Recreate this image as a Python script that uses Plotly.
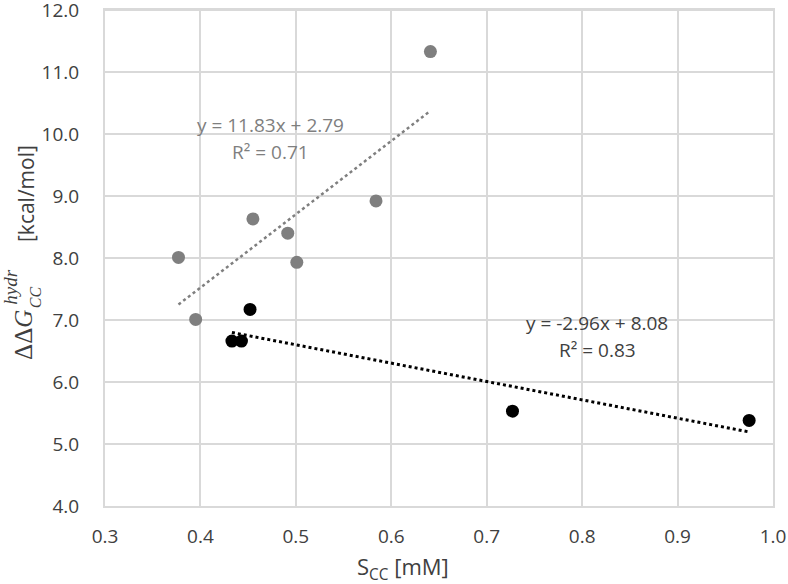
import plotly.graph_objects as go

# Gray series
gray_x = [0.377, 0.395, 0.455, 0.4915, 0.501, 0.584, 0.641]
gray_y = [8.01, 7.01, 8.63, 8.40, 7.93, 8.92, 11.33]
# Black series
black_x = [0.433, 0.443, 0.452, 0.727, 0.975]
black_y = [6.66, 6.66, 7.17, 5.53, 5.38]

# Linear trendlines (slope, intercept) as labelled
gray_fit = [11.83, 2.79]
black_fit = [-2.96, 8.08]
gray_r2 = 0.71
black_r2 = 0.83

x_ticks = [0.3, 0.4, 0.5, 0.6, 0.7, 0.8, 0.9, 1.0]
y_ticks = [4, 5, 6, 7, 8, 9, 10, 11, 12]

GRAY = "#7f7f7f"
TXT = "#404040"
GRID = "#d9d9d9"
FONT = "Open Sans"

def trend(xs, fit):
    x0, x1 = min(xs), max(xs)
    return [x0, x1], [fit[0] * x0 + fit[1], fit[0] * x1 + fit[1]]

fig = go.Figure()
tx, ty = trend(gray_x, gray_fit)
fig.add_trace(go.Scatter(x=tx, y=ty, mode="lines",
                         line=dict(color=GRAY, width=2.5, dash="dot"), showlegend=False))
tx, ty = trend(black_x, black_fit)
fig.add_trace(go.Scatter(x=tx, y=ty, mode="lines",
                         line=dict(color="black", width=3, dash="dot"), showlegend=False))
fig.add_trace(go.Scatter(x=gray_x, y=gray_y, mode="markers",
                         marker=dict(color=GRAY, size=13), showlegend=False))
fig.add_trace(go.Scatter(x=black_x, y=black_y, mode="markers",
                         marker=dict(color="black", size=13), showlegend=False))

def sgn(v):
    return f"+ {v:.2f}" if v >= 0 else f"- {abs(v):.2f}"

ann = []
ann.append(dict(x=0.4737, y=10.15, xref="x", yref="y", showarrow=False,
                text=f"y = {gray_fit[0]:.2f}x {sgn(gray_fit[1])}",
                font=dict(family=FONT, size=19, color=GRAY)))
ann.append(dict(x=0.4737, y=9.71, xref="x", yref="y", showarrow=False,
                text=f"R² = {gray_r2:.2f}",
                font=dict(family=FONT, size=19, color=GRAY)))
ann.append(dict(x=0.8157, y=6.95, xref="x", yref="y", showarrow=False,
                text=f"y = {black_fit[0]:.2f}x {sgn(black_fit[1])}",
                font=dict(family=FONT, size=19, color=TXT)))
ann.append(dict(x=0.8157, y=6.52, xref="x", yref="y", showarrow=False,
                text=f"R² = {black_r2:.2f}",
                font=dict(family=FONT, size=19, color=TXT)))

# x-axis title
ann.append(dict(x=0.446, y=-0.124, xref="paper", yref="paper", showarrow=False,
                xanchor="center", yanchor="middle",
                text="S<sub>CC</sub> [mM]", font=dict(family=FONT, size=22, color=TXT)))
# y-axis title pieces
ann.append(dict(x=0, y=0.345, xref="paper", yref="paper", xshift=-81, showarrow=False,
                xanchor="center", yanchor="middle", textangle=-90,
                text="ΔΔ<i>G</i>", font=dict(family="Liberation Serif", size=25, color=TXT)))
ann.append(dict(x=0, y=0.44, xref="paper", yref="paper", xshift=-94, showarrow=False,
                xanchor="center", yanchor="middle", textangle=-90,
                text="<i>hydr</i>", font=dict(family="Liberation Serif", size=19, color=TXT)))
ann.append(dict(x=0, y=0.421, xref="paper", yref="paper", xshift=-70, showarrow=False,
                xanchor="center", yanchor="middle", textangle=-90,
                text="<i>CC</i>", font=dict(family="Liberation Serif", size=16, color=TXT)))
ann.append(dict(x=0, y=0.629, xref="paper", yref="paper", xshift=-79, showarrow=False,
                xanchor="center", yanchor="middle", textangle=-90,
                text="[kcal/mol]", font=dict(family=FONT, size=21, color=TXT)))

fig.update_layout(
    width=788, height=584,
    margin=dict(l=105, r=15, t=10, b=78, autoexpand=False),
    plot_bgcolor="white", paper_bgcolor="white",
    annotations=ann,
    font=dict(family=FONT, color=TXT),
    shapes=[dict(type="line", xref="paper", yref="paper", x0=0, x1=1, y0=1, y1=1,
                 line=dict(color=GRID, width=2), layer="below")],
)
fig.update_xaxes(range=[0.3, 1.0], tickvals=x_ticks, tickformat=".1f",
                 showgrid=True, gridcolor=GRID, gridwidth=2,
                 showline=True, linecolor=GRID, linewidth=2, mirror=True,
                 zeroline=False, ticks="", ticklabelstandoff=12,
                 ticklabeloverflow="allow", automargin=False,
                 tickfont=dict(family=FONT, size=19, color=TXT))
fig.update_yaxes(range=[4, 12], tickvals=y_ticks, tickformat=".1f",
                 showgrid=True, gridcolor=GRID, gridwidth=2,
                 showline=True, linecolor=GRID, linewidth=2, mirror=True,
                 zeroline=False, ticks="", ticklabelstandoff=20,
                 ticklabeloverflow="allow", automargin=False,
                 tickfont=dict(family=FONT, size=19, color=TXT))

fig.write_html("out.html", config={"displayModeBar": False},
               post_script="document.body.style.margin='0';document.body.style.overflow='hidden';")
